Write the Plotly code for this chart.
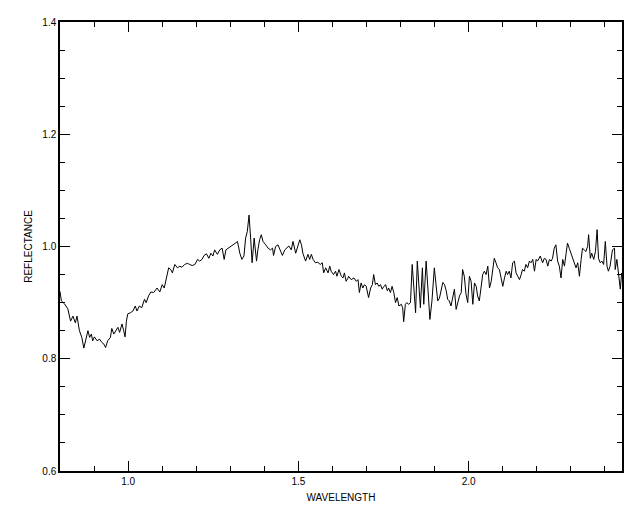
import plotly.graph_objects as go

wavelength = [
    0.800, 0.804, 0.813, 0.823, 0.831, 0.838, 0.845, 0.850, 0.857, 0.864,
    0.870, 0.877, 0.882, 0.887, 0.892, 0.896, 0.901, 0.909, 0.916, 0.923,
    0.929, 0.934, 0.940, 0.948, 0.952, 0.958, 0.965, 0.970, 0.975, 0.982,
    0.987, 0.991, 0.995, 0.999, 1.007, 1.014, 1.021, 1.026, 1.033, 1.040,
    1.048, 1.053, 1.060, 1.067, 1.075, 1.085, 1.093, 1.100, 1.106, 1.113,
    1.119, 1.125, 1.130, 1.137, 1.145, 1.152, 1.158, 1.166, 1.174, 1.181,
    1.188, 1.196, 1.204, 1.210, 1.217, 1.223, 1.230, 1.237, 1.243, 1.249,
    1.254, 1.262, 1.269, 1.276, 1.282, 1.287, 1.293, 1.301, 1.308, 1.315,
    1.321, 1.328, 1.334, 1.340, 1.345, 1.350, 1.355, 1.360, 1.364, 1.370,
    1.372, 1.377, 1.381, 1.386, 1.391, 1.396, 1.404, 1.411, 1.418, 1.424,
    1.427, 1.433, 1.440, 1.447, 1.453, 1.460, 1.466, 1.472, 1.479, 1.484,
    1.492, 1.497, 1.504, 1.509, 1.513, 1.521, 1.528, 1.533, 1.538, 1.543,
    1.550, 1.557, 1.564, 1.570, 1.574, 1.580, 1.587, 1.592, 1.596, 1.603,
    1.609, 1.613, 1.619, 1.626, 1.631, 1.635, 1.640, 1.646, 1.647, 1.655,
    1.663, 1.670, 1.675, 1.679, 1.684, 1.689, 1.694, 1.699, 1.706, 1.712,
    1.717, 1.721, 1.726, 1.731, 1.736, 1.741, 1.746, 1.751, 1.756, 1.761,
    1.765, 1.770, 1.775, 1.780, 1.785, 1.790, 1.795, 1.802, 1.806, 1.809,
    1.814, 1.818, 1.824, 1.829, 1.834, 1.839, 1.844, 1.849, 1.853, 1.858,
    1.864, 1.868, 1.875, 1.880, 1.886, 1.892, 1.896, 1.899, 1.904, 1.909,
    1.914, 1.919, 1.924, 1.929, 1.934, 1.938, 1.943, 1.948, 1.953, 1.958,
    1.963, 1.968, 1.973, 1.978, 1.982, 1.987, 1.992, 1.997, 2.002, 2.007,
    2.012, 2.017, 2.022, 2.026, 2.031, 2.036, 2.041, 2.046, 2.051, 2.056,
    2.061, 2.066, 2.070, 2.075, 2.080, 2.085, 2.090, 2.095, 2.100, 2.105,
    2.110, 2.114, 2.119, 2.124, 2.129, 2.134, 2.139, 2.144, 2.149, 2.154,
    2.158, 2.163, 2.168, 2.173, 2.178, 2.183, 2.188, 2.193, 2.198, 2.202,
    2.207, 2.210, 2.217, 2.222, 2.227, 2.232, 2.237, 2.242, 2.246, 2.251,
    2.256, 2.261, 2.266, 2.271, 2.276, 2.281, 2.286, 2.290, 2.295, 2.300,
    2.305, 2.310, 2.315, 2.320, 2.325, 2.330, 2.334, 2.339, 2.344, 2.349,
    2.352, 2.357, 2.361, 2.367, 2.372, 2.377, 2.381, 2.386, 2.391, 2.396,
    2.401, 2.406, 2.410, 2.415, 2.419, 2.422, 2.428, 2.430, 2.435, 2.439,
    2.442, 2.445, 2.449,
]

reflectance = [
    0.920, 0.903, 0.898, 0.889, 0.867, 0.876, 0.864, 0.876, 0.850, 0.838,
    0.819, 0.841, 0.850, 0.838, 0.844, 0.832, 0.839, 0.832, 0.835, 0.829,
    0.826, 0.820, 0.832, 0.838, 0.854, 0.844, 0.850, 0.856, 0.847, 0.862,
    0.850, 0.839, 0.867, 0.880, 0.882, 0.885, 0.894, 0.885, 0.894, 0.891,
    0.906, 0.900, 0.912, 0.919, 0.918, 0.926, 0.919, 0.932, 0.926, 0.947,
    0.962, 0.959, 0.953, 0.968, 0.962, 0.965, 0.963, 0.968, 0.970, 0.968,
    0.966, 0.968, 0.977, 0.974, 0.977, 0.984, 0.987, 0.979, 0.988, 0.983,
    0.994, 0.986, 0.994, 0.997, 0.977, 0.994, 0.997, 1.000, 1.003, 1.006,
    1.009, 0.988, 0.977, 0.983, 1.015, 1.027, 1.056, 1.012, 0.971, 1.015,
    1.000, 0.974, 0.994, 1.012, 1.021, 1.009, 1.003, 0.997, 0.994, 0.997,
    0.984, 1.000, 1.003, 0.994, 0.984, 0.994, 0.997, 1.001, 0.994, 1.009,
    0.988, 1.000, 1.012, 1.003, 0.988, 0.974, 0.986, 0.977, 0.986, 0.977,
    0.971, 0.972, 0.968, 0.971, 0.953, 0.962, 0.953, 0.965, 0.956, 0.950,
    0.956, 0.947, 0.959, 0.947, 0.944, 0.953, 0.938, 0.944, 0.947, 0.941,
    0.944, 0.938, 0.941, 0.918, 0.935, 0.926, 0.932, 0.929, 0.909, 0.926,
    0.932, 0.950, 0.932, 0.935, 0.929, 0.932, 0.924, 0.929, 0.932, 0.921,
    0.926, 0.918, 0.929, 0.918, 0.900, 0.909, 0.894, 0.897, 0.891, 0.866,
    0.897, 0.900, 0.897, 0.900, 0.968, 0.926, 0.882, 0.974, 0.926, 0.891,
    0.962, 0.897, 0.974, 0.921, 0.870, 0.903, 0.938, 0.962, 0.932, 0.903,
    0.908, 0.926, 0.936, 0.932, 0.921, 0.906, 0.903, 0.894, 0.909, 0.924,
    0.888, 0.903, 0.912, 0.918, 0.959, 0.947, 0.915, 0.900, 0.947, 0.938,
    0.897, 0.935, 0.929, 0.912, 0.903, 0.926, 0.950, 0.956, 0.950, 0.965,
    0.926, 0.938, 0.956, 0.979, 0.971, 0.962, 0.959, 0.944, 0.929, 0.944,
    0.956, 0.950, 0.956, 0.944, 0.971, 0.974, 0.953, 0.947, 0.941, 0.950,
    0.959, 0.956, 0.968, 0.962, 0.974, 0.971, 0.977, 0.956, 0.977, 0.974,
    0.979, 0.983, 0.971, 0.979, 0.977, 0.965, 0.977, 0.974, 0.979, 0.997,
    1.003, 0.974, 0.965, 0.944, 0.977, 0.965, 0.988, 1.006, 0.997, 0.988,
    0.979, 0.968, 0.962, 0.971, 0.947, 0.977, 0.997, 0.994, 0.991, 1.000,
    1.021, 0.979, 0.988, 0.977, 0.991, 1.030, 0.979, 0.971, 0.974, 0.968,
    1.009, 0.965, 0.956, 0.965, 0.983, 0.994, 0.997, 0.959, 0.977, 0.950,
    0.944, 0.924, 0.953,
]

x_range = [0.8, 2.45]
y_range = [0.6, 1.4]
x_title = "WAVELENGTH"
y_title = "REFLECTANCE"

fig = go.Figure()
fig.add_trace(go.Scatter(
    x=wavelength, y=reflectance, mode="lines",
    line=dict(color="black", width=1), showlegend=False,
))

axis_common = dict(
    showline=True, linecolor="black", linewidth=1.5, mirror="ticks",
    ticks="inside", ticklen=10, tickwidth=1, tickcolor="black",
    showgrid=False, zeroline=False, tickformat=".1f",
    tickfont=dict(family="Liberation Sans", size=10, color="black"),
)

fig.update_xaxes(
    range=x_range, dtick=0.5, tick0=0,
    minor=dict(ticks="inside", ticklen=5, dtick=0.1, tick0=0, tickcolor="black"),
    title=dict(text=x_title, font=dict(family="Liberation Sans", size=10, color="black"), standoff=8),
    **axis_common,
)
fig.update_yaxes(
    range=y_range, dtick=0.2, tick0=0,
    minor=dict(ticks="inside", ticklen=5, dtick=0.05, tick0=0, tickcolor="black"),
    title=dict(text=y_title, font=dict(family="Liberation Sans", size=10, color="black"), standoff=8),
    **axis_common,
)

fig.update_layout(
    width=640, height=512,
    margin=dict(l=52, r=26, t=8, b=49),
    paper_bgcolor="white", plot_bgcolor="white",
    font=dict(family="Liberation Sans", size=10, color="black"),
)

fig.write_html("out.html")
